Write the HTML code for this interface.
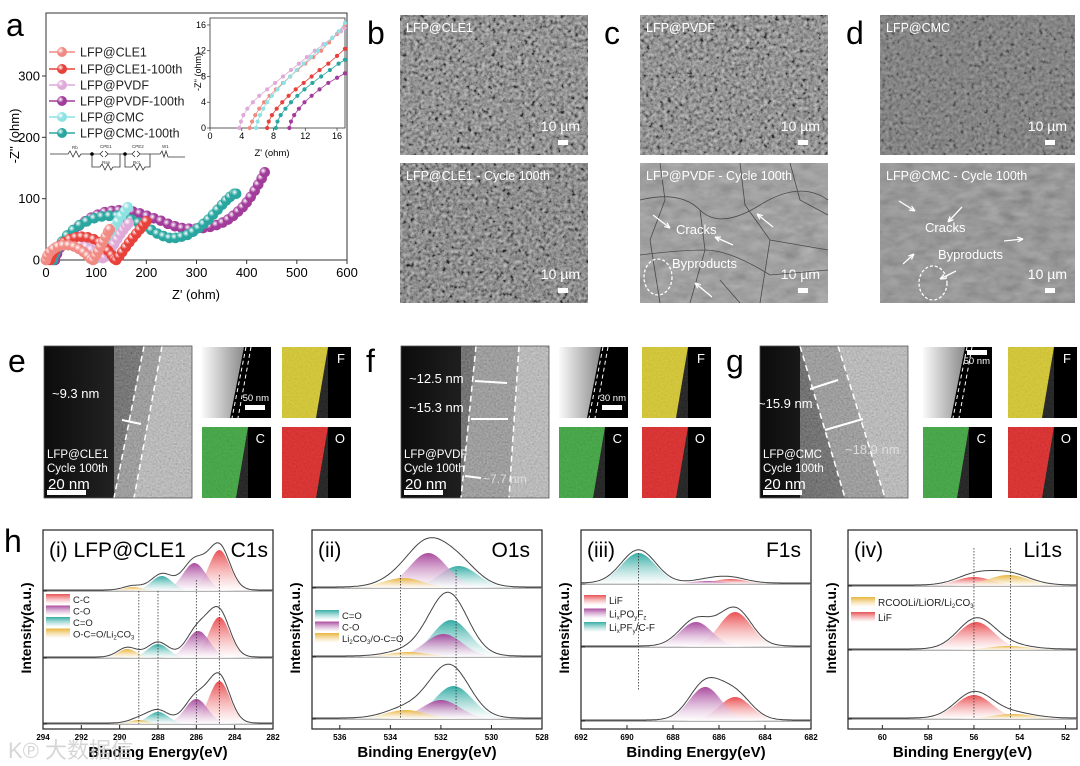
<!DOCTYPE html>
<html><head><meta charset="utf-8">
<style>
html,body{margin:0;padding:0;background:#fff;}
svg{display:block;font-family:"Liberation Sans",Arial,sans-serif;}
</style></head>
<body>
<svg id="fig" width="1080" height="766" viewBox="0 0 1080 766" xmlns="http://www.w3.org/2000/svg">
<defs>
  <filter id="noise" x="0" y="0" width="100%" height="100%">
    <feTurbulence type="fractalNoise" baseFrequency="0.55" numOctaves="2" seed="4"/>
    <feColorMatrix type="matrix" values="0.33 0.33 0.33 0 0  0.33 0.33 0.33 0 0  0.33 0.33 0.33 0 0  0 0 0 0 0.55"/>
  </filter>
  <filter id="semnoise" x="0" y="0" width="100%" height="100%">
    <feTurbulence type="fractalNoise" baseFrequency="0.28" numOctaves="3" seed="7"/>
    <feColorMatrix type="matrix" values="0.33 0.33 0.33 0 0  0.33 0.33 0.33 0 0  0.33 0.33 0.33 0 0  0 0 0 0 1"/>
    <feComponentTransfer>
      <feFuncR type="linear" slope="2.6" intercept="-0.85"/>
      <feFuncG type="linear" slope="2.6" intercept="-0.85"/>
      <feFuncB type="linear" slope="2.6" intercept="-0.85"/>
      <feFuncA type="linear" slope="0" intercept="0.6"/>
    </feComponentTransfer>
  </filter>
  <filter id="noise2" x="0" y="0" width="100%" height="100%">
    <feTurbulence type="fractalNoise" baseFrequency="0.06 0.12" numOctaves="3" seed="9"/>
    <feColorMatrix type="matrix" values="0.33 0.33 0.33 0 0  0.33 0.33 0.33 0 0  0.33 0.33 0.33 0 0  0 0 0 0 0.45"/>
  </filter>
  <linearGradient id="temDark" x1="0" x2="1" y1="0" y2="0"><stop offset="0" stop-color="#0c0c0c"/><stop offset="1" stop-color="#3a3a3a"/></linearGradient>
  <linearGradient id="hbGrad" x1="0" x2="1" y1="0" y2="0"><stop offset="0" stop-color="#fafafa"/><stop offset="1" stop-color="#8a8a8a"/></linearGradient>
</defs>

<g font-size="32" fill="#000">
  <text x="6" y="36">a</text>
  <text x="367" y="44">b</text>
  <text x="604" y="44">c</text>
  <text x="846" y="44">d</text>
  <text x="8" y="372">e</text>
  <text x="366" y="372">f</text>
  <text x="726" y="372">g</text>
  <text x="4" y="552">h</text>
</g>

<g id="panelA"></g>
<g id="sem"></g>
<g id="tem"></g>
<g id="xps"></g>
<text x="8" y="758" font-size="22" fill="#ccc" opacity="0.8">K℗ 大数据信</text>
</svg>

<script>
// ---------- Panel a data ----------
const eisNames = ["LFP@CLE1","LFP@CLE1-100th","LFP@PVDF","LFP@PVDF-100th","LFP@CMC","LFP@CMC-100th"];
const eisColors = ["#f28a84","#e8403a","#dfaad8","#a23c9a","#8fe2e2","#2aa6a0"];
const eisCLE1 = [[0,0],[3,7],[8,13],[15,18],[24,22],[34,24],[45,24],[56,22],[66,18],[75,13],[83,7],[89,2],[94,0],[99,7],[104,14],[109,22],[114,30],[119,38],[124,46],[127,50]];
const eisCLE1c = [[8,0],[12,8],[18,16],[26,23],[36,29],[47,34],[59,37],[71,38],[83,37],[95,34],[106,29],[116,22],[124,15],[131,8],[136,2],[140,0],[146,6],[152,13],[159,21],[166,29],[173,36],[180,43],[187,50],[194,57],[200,63]];
const eisPVDF = [[0,0],[4,8],[11,15],[20,21],[31,25],[43,28],[56,28],[68,26],[80,22],[90,17],[99,12],[107,7],[113,3],[118,5],[124,11],[130,18],[136,26],[142,34],[148,42],[154,49],[160,55],[165,60]];
const eisPVDFc = [[18,0],[22,10],[28,20],[36,30],[45,40],[55,48],[66,56],[78,63],[90,69],[103,74],[117,78],[131,80],[145,81],[159,81],[173,79],[187,76],[201,72],[215,68],[229,64],[243,59],[257,55],[271,52],[285,51],[299,51],[313,52],[327,54],[340,57],[352,61],[363,66],[373,72],[383,79],[392,86],[400,94],[408,103],[416,113],[423,123],[430,133],[436,143]];
const eisCMC = [[0,0],[4,8],[11,15],[20,21],[31,25],[43,27],[56,27],[68,24],[78,19],[87,13],[94,6],[99,2],[104,7],[110,15],[116,24],[122,33],[129,43],[136,53],[143,63],[150,72],[157,80],[163,86]];
const eisCMCc = [[14,0],[18,10],[24,20],[32,30],[42,40],[54,49],[67,57],[81,63],[96,68],[111,71],[126,72],[141,72],[156,70],[170,66],[184,61],[197,55],[210,49],[222,43],[234,39],[246,36],[258,36],[270,38],[282,41],[293,46],[304,52],[314,59],[324,66],[333,74],[342,82],[351,90],[359,97],[367,103],[375,108],[379,108]];
const eisXTicks = [0,100,200,300,400,500,600];
const eisYTicks = [0,100,200,300];
const insCLE1 = [[5,0],[5.3,1],[5.7,2],[6.2,3],[6.8,4],[7.5,5],[8.3,6],[9.2,7],[10.1,8],[11,9],[12,10],[13,11],[14,12],[15,13.3],[16,14.6],[17,16]];
const insCLE1c = [[7.2,0],[7.4,1],[7.8,2],[8.4,3],[9.1,4],[9.9,5],[10.8,6],[11.8,7],[12.8,8],[13.8,9],[14.9,10],[16,11.2],[17,12.3]];
const insPVDF = [[3.7,0],[3.9,1],[4.2,2],[4.7,3],[5.4,4],[6.2,5],[7.2,6],[8.2,7],[9.2,8],[10.2,9],[11.2,10],[12.2,11],[13.2,12],[14.3,13],[15.4,14],[16.5,15],[17,15.5]];
const insPVDFc = [[10,0],[10.2,1],[10.6,2],[11.2,3],[11.9,4],[12.8,5],[13.8,6],[14.9,7],[16,7.8],[17,8.5]];
const insCMC = [[5.8,0],[6,1],[6.3,2],[6.7,3],[7.2,4],[7.8,5],[8.5,6],[9.3,7],[10.1,8],[10.9,9],[11.8,10],[12.7,11],[13.6,12],[14.5,13],[15.4,14],[16.2,15],[17,16.3]];
const insCMCc = [[8.3,0],[8.5,1],[8.9,2],[9.5,3],[10.2,4],[11,5],[11.9,6],[12.9,7],[14,8],[15.1,9],[16.2,10],[17,10.6]];
const insTicks = [0,4,8,12,16];

// ---------- XPS data ----------
const c1sCenters = [284.8,286.1,287.8,289.3];
const c1sSigmas = [0.55,0.6,0.55,0.5];
const c1sHeights = [[41,28,15,4],[41,27,14,9],[43,25,12,4]];
const o1sSigmas = [0.75,0.75,0.8];
const o1sHeights = [[22,35,10],[37,23,5],[33,19,9]];
const o1sCentersShift = [[531.3,532.5,533.5],[531.6,531.9,533.3],[531.5,532.0,533.4]];
const f1sCenters = [[685.5,686.5,689.5],[685.3,687.0,689.5],[685.3,686.6,689.5]];
const f1sSigmas = [0.7,0.7,0.75];
const f1sHeights = [[5,3,31],[35,25,0],[24,34,0]];
const li1sCenters = [[56.0,54.5],[55.9,54.5],[56.0,54.3]];
const li1sSigmas = [0.8,0.9];
const li1sHeights = [[9,11],[28,4],[24,5]];
const c1sTicks = [294,292,290,288,286,284,282];
const o1sTicks = [536,534,532,530,528];
const f1sTicks = [692,690,688,686,684,682];
const li1sTicks = [60,58,56,54,52];

const NS = "http://www.w3.org/2000/svg";
function mk(parent, tag, attrs, text){
  const e = document.createElementNS(NS, tag);
  for (const k in attrs) e.setAttribute(k, attrs[k]);
  if (text !== undefined) e.textContent = text;
  parent.appendChild(e);
  return e;
}
const defs = document.querySelector("defs");

// ================= Panel a =================
(function(){
  const g = document.getElementById("panelA");
  const X = z => 46 + z*0.5017, Y = v => 260 - v*0.6133;
  const fr = mk(g,"rect",{x:46,y:13,width:301,height:247,fill:"none",stroke:"#333","stroke-width":1});
  
  
  eisXTicks.forEach(t=>{
    const l = mk(g,"line",{x1:X(t),x2:X(t),y1:260,y2:264,stroke:"#333"});
    
    
    const tx = mk(g,"text",{x:X(t),y:277,"font-size":13,"text-anchor":"middle"},t);
    
    
  });
  eisYTicks.forEach(t=>{
    const l = mk(g,"line",{x1:42,x2:46,y1:Y(t),y2:Y(t),stroke:"#333"});
    
    
    const tx = mk(g,"text",{x:40,y:Y(t)+4.5,"font-size":13,"text-anchor":"end"},t);
    
    
  });
  const xt = mk(g,"text",{x:196,y:299,"font-size":13,"text-anchor":"middle"},"Z' (ohm)");
  
  
  const yt = mk(g,"text",{x:0,y:0,"font-size":13,"text-anchor":"middle",transform:"translate(19,136) rotate(-90)"},"-Z'' (ohm)");
  
  

  eisColors.forEach((c,i)=>{
    const rg = mk(defs,"radialGradient",{id:"bead"+i,cx:"0.35",cy:"0.35",r:"0.7"});
    mk(rg,"stop",{offset:"0","stop-color":"#ffffff"});
    mk(rg,"stop",{offset:"0.45","stop-color":c});
    mk(rg,"stop",{offset:"1","stop-color":c});
  });
  const series = [eisPVDFc,eisCMCc,eisCMC,eisPVDF,eisCLE1c,eisCLE1];
  const sIdx = [3,5,4,2,1,0];
  series.forEach((pts,k)=>{
    const i = sIdx[k];
    const sg = mk(g,"g",{});
    
    
    pts.forEach(p=>{
      const c = mk(sg,"circle",{cx:X(p[0]),cy:Y(p[1]),r:5.3,fill:"url(#bead"+i+")"});
      
      
    });
  });
  const ly = [52,69,85,101,117,133];
  eisNames.forEach((n,i)=>{
    const lg = mk(g,"g",{});
    
    
    mk(lg,"line",{x1:49,x2:75,y1:ly[i],y2:ly[i],stroke:eisColors[i],"stroke-width":1.5});
    mk(lg,"circle",{cx:62,cy:ly[i],r:5,fill:"url(#bead"+i+")"});
    mk(lg,"text",{x:80,y:ly[i]+4.5,"font-size":12.5,fill:"#222"},n);
  });
  const cg = mk(g,"g",{stroke:"#333","stroke-width":0.8,fill:"none"});
  
  
  mk(cg,"path",{d:"M50 154 H68 l2 -3 l3 6 l3 -6 l3 6 l2 -3 H92 H100 l3 -3 M103 157 l-3 -3 M105 151 l3 3 l-3 3 M108 154 H125 H132 l3 -3 M135 157 l-3 -3 M137 151 l3 3 l-3 3 M140 154 H160 l2 -3 l2 6 l2 -6 l2 6 H185 M92 154 V167 H100 l2 -3 l3 6 l3 -6 l3 6 l2 -3 H120 V154 M125 154 V167 H132 l2 -3 l3 6 l3 -6 l3 6 l2 -3 H150 V154"});
  mk(g,"circle",{cx:92,cy:154,r:1.8,fill:"#000"});
  mk(g,"circle",{cx:125,cy:154,r:1.8,fill:"#000"});
  [["Rb",72,149],["CPE1",100,148],["Rse",102,164],["CPE2",132,148],["Rct",133,164],["W1",162,148]].forEach(a=>{
    mk(g,"text",{x:a[1],y:a[2],"font-size":4.5,fill:"#333"},a[0]);
  });

  const IX = z => 210 + z*7.94, IY = v => 128 - v*6.44;
  const ig = mk(g,"g",{});
  
  
  mk(ig,"rect",{x:210,y:18,width:135,height:110,fill:"#fff",stroke:"#333","stroke-width":0.8});
  insTicks.forEach(t=>{
    mk(ig,"line",{x1:IX(t),x2:IX(t),y1:128,y2:131,stroke:"#333","stroke-width":0.7});
    const a = mk(ig,"text",{x:IX(t),y:139,"font-size":9,"text-anchor":"middle"},t);
    
    
    mk(ig,"line",{x1:207,x2:210,y1:IY(t),y2:IY(t),stroke:"#333","stroke-width":0.7});
    const b = mk(ig,"text",{x:206,y:IY(t)+3,"font-size":9,"text-anchor":"end"},t);
    
    
  });
  mk(ig,"text",{x:272,y:156,"font-size":9.5,"text-anchor":"middle"},"Z' (ohm)");
  mk(ig,"text",{x:0,y:0,"font-size":9,"text-anchor":"middle",transform:"translate(201,72) rotate(-90)"},"-Z'' (ohm)");
  const ins = [insCLE1,insCLE1c,insPVDF,insPVDFc,insCMC,insCMCc];
  ins.forEach((pts,i)=>{
    const sg = mk(ig,"g",{});
    
    
    mk(sg,"polyline",{points:pts.map(p=>IX(p[0])+","+IY(p[1])).join(" "),fill:"none",stroke:eisColors[i],"stroke-width":0.8});
    pts.forEach(p=>mk(sg,"circle",{cx:IX(p[0]),cy:IY(p[1]),r:2.1,fill:eisColors[i]}));
  });
})();

// ================= SEM (b,c,d) =================
(function(){
  const g = document.getElementById("sem");
  const imgs = [
    {x:400,y:15,w:188,h:140,base:"#666",f:"semnoise",label:"LFP@CLE1",n:"sem-cle1"},
    {x:400,y:163,w:188,h:140,base:"#5a5a5a",f:"semnoise",label:"LFP@CLE1 - Cycle 100th",n:"sem-cle1-100th"},
    {x:640,y:15,w:188,h:140,base:"#676767",f:"semnoise",label:"LFP@PVDF",n:"sem-pvdf"},
    {x:640,y:163,w:188,h:140,base:"#8a8a8a",f:"noise2",label:"LFP@PVDF - Cycle 100th",n:"sem-pvdf-100th"},
    {x:880,y:15,w:195,h:140,base:"#6e6e6e",f:"semnoise",label:"LFP@CMC",n:"sem-cmc"},
    {x:880,y:163,w:195,h:140,base:"#7c7c7c",f:"noise2",label:"LFP@CMC - Cycle 100th",n:"sem-cmc-100th"}
  ];
  imgs.forEach((m,i)=>{
    const sg = mk(g,"g",{});
    
    
    mk(sg,"rect",{x:m.x,y:m.y,width:m.w,height:m.h,fill:m.base});
    mk(sg,"rect",{x:m.x,y:m.y,width:m.w,height:m.h,filter:"url(#"+m.f+")",opacity:i==4?"0.55":"1"});
    mk(sg,"text",{x:m.x+6,y:m.y+17,"font-size":12.5,fill:"#fff"},m.label);
    mk(sg,"text",{x:m.x+m.w-8,y:m.y+m.h-24,"font-size":14,fill:"#fff","text-anchor":"end"},"10 µm");
    mk(sg,"rect",{x:m.x+m.w-30,y:m.y+m.h-15,width:10,height:5,fill:"#fff"});
  });
  const cr = mk(g,"path",{d:"M640 200 Q680 190 700 210 T760 205 T828 200 M660 163 L665 200 L650 240 L660 303 M700 210 L705 250 L690 303 M740 163 L745 205 L770 240 L760 303 M770 240 L828 250 M640 255 Q680 250 705 250 T770 275 L828 270 M790 163 L800 200 L828 215 M720 280 L740 303",stroke:"#333","stroke-width":0.8,fill:"none",opacity:"0.8"});
  
  
  const ann = mk(g,"g",{fill:"#fff","font-size":13,stroke:"none"});
  
  
  mk(ann,"text",{x:676,y:234},"Cracks");
  mk(ann,"text",{x:672,y:268},"Byproducts");
  mk(ann,"text",{x:925,y:232},"Cracks");
  mk(ann,"text",{x:938,y:259},"Byproducts");
  const arr = mk(g,"g",{stroke:"#fff","stroke-width":1.3,fill:"none"});
  
  
  [[653,215,670,228],[733,245,715,237],[773,227,757,214],[712,297,695,283],[899,201,915,211],[962,207,948,222],[1004,241,1023,239],[903,264,914,254],[956,271,940,279]].forEach(a=>{
    mk(arr,"line",{x1:a[0],y1:a[1],x2:a[2],y2:a[3]});
    const ang=Math.atan2(a[3]-a[1],a[2]-a[0]);
    mk(arr,"path",{d:`M${a[2]} ${a[3]} L${a[2]-6*Math.cos(ang-0.4)} ${a[3]-6*Math.sin(ang-0.4)} M${a[2]} ${a[3]} L${a[2]-6*Math.cos(ang+0.4)} ${a[3]-6*Math.sin(ang+0.4)}`});
  });
  mk(arr,"ellipse",{cx:658,cy:277,rx:14,ry:18,"stroke-dasharray":"3 2"});
  mk(arr,"ellipse",{cx:933,cy:283,rx:14,ry:17,"stroke-dasharray":"3 2"});
})();

// ================= TEM / EDS (e,f,g) =================
(function(){
  const g = document.getElementById("tem");
  const sets = [
    {x:44,n:"e",sx:202,fx:282,lab:["~9.3 nm"],labY:[398],name:"LFP@CLE1",sb:"50 nm"},
    {x:401,n:"f",sx:559,fx:642,lab:["~12.5 nm","~15.3 nm"],labY:[383,412],name:"LFP@PVDF",sb:"30 nm"},
    {x:760,n:"g",sx:923,fx:1008,lab:["~15.9 nm"],labY:[408],name:"LFP@CMC",sb:"50 nm"}
  ];
  const y0=346, h=152, w=148;
  sets.forEach((s,k)=>{
    const tg = mk(g,"g",{});
    
    
    const b1 = [[s.x+100,s.x+70],[s.x+75,s.x+60],[s.x+40,s.x+85]][k];
    const b2 = [[s.x+118,s.x+90],[s.x+118,s.x+108],[s.x+78,s.x+125]][k];
    mk(tg,"rect",{x:s.x,y:y0,width:w,height:h,fill:"url(#temDark)"});
    mk(tg,"path",{d:`M${b1[0]} ${y0} L${s.x+w} ${y0} L${s.x+w} ${y0+h} L${b1[1]} ${y0+h} Z`,fill:"#7a7a7a"});
    mk(tg,"path",{d:`M${b2[0]} ${y0} L${s.x+w} ${y0} L${s.x+w} ${y0+h} L${b2[1]} ${y0+h} Z`,fill:"#b8b8b8"});
    mk(tg,"path",{d:`M${b1[0]} ${y0} L${s.x+w} ${y0} L${s.x+w} ${y0+h} L${b1[1]} ${y0+h} Z`,filter:"url(#noise)"});
    mk(tg,"line",{x1:b1[0],y1:y0,x2:b1[1],y2:y0+h,stroke:"#fff","stroke-width":1.5,"stroke-dasharray":"6 4"});
    mk(tg,"line",{x1:b2[0],y1:y0,x2:b2[1],y2:y0+h,stroke:"#fff","stroke-width":1.5,"stroke-dasharray":"6 4"});
    mk(tg,"rect",{x:s.x,y:y0,width:w,height:h,fill:"none",stroke:"#555","stroke-width":0.8});
    s.lab.forEach((t,i)=>mk(tg,"text",{x:s.x+ (k==2?-2:8),y:s.labY[i],"font-size":13,fill:"#fff"},t));
    mk(tg,"text",{x:s.x+3,y:y0+112,"font-size":11.5,fill:"#fff"},s.name);
    mk(tg,"text",{x:s.x+3,y:y0+126,"font-size":11.5,fill:"#fff"},"Cycle 100th");
    mk(tg,"text",{x:s.x+4,y:y0+143,"font-size":15,fill:"#fff"},"20 nm");
    mk(tg,"rect",{x:s.x+3,y:y0+144,width:39,height:5,fill:"#fff"});
    const bars = [[[s.x+78,y0+74,s.x+97,y0+78]],[[s.x+74,y0+35,s.x+106,y0+37],[s.x+70,y0+73,s.x+107,y0+73],[s.x+64,y0+130,s.x+80,y0+132]],[[s.x+50,y0+43,s.x+78,y0+34],[s.x+65,y0+84,s.x+103,y0+73]]][k];
    bars.forEach(b=>mk(tg,"line",{x1:b[0],y1:b[1],x2:b[2],y2:b[3],stroke:"#fff","stroke-width":2}));
    if(k==1) mk(tg,"text",{x:s.x+82,y:y0+137,"font-size":12,fill:"#ddd"},"~7.7 nm");
    if(k==2) mk(tg,"text",{x:s.x+85,y:y0+108,"font-size":13,fill:"#ddd"},"~18.9 nm");
    const hg = mk(g,"g",{});
    
    
    mk(hg,"rect",{x:s.sx,y:347,width:69,height:71,fill:"#000"});
    mk(hg,"path",{d:`M${s.sx} 347 L${s.sx+42} 347 L${s.sx+28} 418 L${s.sx} 418 Z`,fill:"url(#hbGrad)"});
    mk(hg,"path",{d:`M${s.sx+44} 347 L${s.sx+30} 418 M${s.sx+49} 347 L${s.sx+36} 418`,stroke:"#fff","stroke-dasharray":"4 3",fill:"none"});
    mk(hg,"text",{x:s.sx+67,y:k==2?364:401,"font-size":9.5,fill:"#fff","text-anchor":"end"},s.sb);
    mk(hg,"rect",{x:s.sx+(k==2?44:43),y:k==2?350:405,width:20,height:5,fill:"#fff"});
    const maps = [[s.fx,347,"#d8c818","F"],[s.sx,427,"#2aa02a","C"],[s.fx,427,"#e01010","O"]];
    maps.forEach(m=>{
      const mg = mk(g,"g",{});
      
      
      mk(mg,"rect",{x:m[0],y:m[1],width:69,height:71,fill:"#000"});
      mk(mg,"path",{d:`M${m[0]} ${m[1]} L${m[0]+46} ${m[1]} L${m[0]+34} ${m[1]+71} L${m[0]} ${m[1]+71} Z`,fill:m[2]});
      mk(mg,"path",{d:`M${m[0]} ${m[1]} L${m[0]+46} ${m[1]} L${m[0]+34} ${m[1]+71} L${m[0]} ${m[1]+71} Z`,filter:"url(#noise)",opacity:"0.4"});
      mk(mg,"text",{x:m[0]+63,y:m[1]+16,"font-size":13,fill:"#fff","text-anchor":"end"},m[3]);
    });
  });
})();

// ================= XPS (h) =================
(function(){
  const g = document.getElementById("xps");
  const cols = {red:"#e8474a",pur:"#a6429a",teal:"#2aa8a0",org:"#e8b030"};
  Object.keys(cols).forEach(k=>{
    const lg = mk(defs,"linearGradient",{id:"pk_"+k,x1:0,x2:0,y1:0,y2:1});
    mk(lg,"stop",{offset:"0","stop-color":cols[k],"stop-opacity":"0.95"});
    mk(lg,"stop",{offset:"1","stop-color":"#fff","stop-opacity":"0.6"});
  });
  const gauss=(e,c,s,h)=>h*Math.exp(-0.5*((e-c)/s)**2);
  function plot(cfg){
    const pg = mk(g,"g",{});
    
    
    const X = e => cfg.x0 + (cfg.e0-e)/(cfg.e0-cfg.e1)*(cfg.x1-cfg.x0);
    const top=530,bot=729;
    mk(pg,"rect",{x:cfg.x0,y:top,width:cfg.x1-cfg.x0,height:bot-top,fill:"none",stroke:"#222","stroke-width":1.2});
    cfg.ticks.forEach(t=>{
      mk(pg,"line",{x1:X(t),x2:X(t),y1:bot,y2:bot-4,stroke:"#222"});
      const tl = mk(pg,"text",{x:X(t),y:bot+11,"font-size":8,"text-anchor":"middle","font-weight":"bold"},t);
      
      
    });
    const xt = mk(pg,"text",{x:(cfg.x0+cfg.x1)/2,y:757,"font-size":15,"font-weight":"bold","text-anchor":"middle"},"Binding Energy(eV)");
    
    
    const yt = mk(pg,"text",{x:0,y:0,"font-size":14,"font-weight":"bold","text-anchor":"middle",transform:`translate(${cfg.x0-12},628) rotate(-90)`},"Intensity(a.u.)");
    
    
    const N=160;
    cfg.bases.forEach((by,si)=>{
      mk(pg,"line",{x1:cfg.x0+1,x2:cfg.x1-1,y1:by,y2:by,stroke:"#666","stroke-width":1});
      mk(pg,"line",{x1:cfg.x0,x2:cfg.x0+4,y1:by,y2:by,stroke:"#222"});
      const env = new Array(N+1).fill(0);
      cfg.centers[si].forEach((c,pi)=>{
        const h = cfg.heights[si][pi];
        if(h<=0) return;
        let d = `M${X(cfg.e0)} ${by}`;
        for(let i=0;i<=N;i++){
          const e = cfg.e0 + (cfg.e1-cfg.e0)*i/N;
          const v = gauss(e,c,cfg.sig[pi],h);
          env[i]+=v;
          d += ` L${X(e).toFixed(1)} ${(by-v).toFixed(1)}`;
        }
        d += ` L${X(cfg.e1)} ${by} Z`;
        const p = mk(pg,"path",{d:d,fill:"url(#pk_"+cfg.colors[pi]+")"});
        
        
      });
      let d2="";
      for(let i=0;i<=N;i++){
        const e = cfg.e0 + (cfg.e1-cfg.e0)*i/N;
        d2 += (i?" L":"M")+X(e).toFixed(1)+" "+(by-env[i]*1.07-1).toFixed(1);
      }
      const en = mk(pg,"path",{d:d2,fill:"none",stroke:"#444","stroke-width":1});
      
      
    });
    cfg.vlines.forEach(v=>mk(pg,"line",{x1:X(v[0]),x2:X(v[0]),y1:v[1],y2:v[2],stroke:"#333","stroke-width":0.8,"stroke-dasharray":"1.5 1.5"}));
    mk(pg,"text",{x:cfg.x0+6,y:557,"font-size":21},cfg.title);
    mk(pg,"text",{x:cfg.tx,y:557,"font-size":21,"text-anchor":"end"},cfg.core);
    cfg.legend.forEach((l,i)=>{
      const lg = mk(pg,"g",{});
      
      
      const ly = cfg.ly + i*cfg.ld;
      mk(lg,"rect",{x:cfg.x0+3,y:ly-6,width:cfg.sw,height:10,fill:"url(#pk_"+l[0]+")"});
      const t = mk(lg,"text",{x:cfg.x0+cfg.sw+6,y:ly+3,"font-size":cfg.lfs,fill:"#222"});
      t.innerHTML = l[1];
    });
  }
  plot({name:"xps-c1s",x0:43,x1:273,e0:294,e1:282,ticks:c1sTicks,bases:[591,658,724],
    centers:[c1sCenters,[284.8,285.9,288.0,289.6],[284.8,286.0,288.0,289.0]],heights:c1sHeights,sig:c1sSigmas,
    colors:["red","pur","teal","org"],vlines:[[289,591,724],[288,591,724],[286,580,724],[284.8,575,724]],
    title:"(i) LFP@CLE1",core:"C1s",tx:268,
    legend:[["red","C-C"],["pur","C-O"],["teal","C=O"],["org","O-C=O/Li<tspan font-size='6' dy='2'>2</tspan><tspan dy='-2'>CO</tspan><tspan font-size='6' dy='2'>3</tspan>"]],ly:600,ld:11.5,sw:24,lfs:9.5});
  plot({name:"xps-o1s",x0:312,x1:542,e0:537.1,e1:528,ticks:o1sTicks,bases:[588,657,719],
    centers:o1sCentersShift,heights:o1sHeights,sig:o1sSigmas,
    colors:["teal","pur","org"],vlines:[[533.6,575,719],[531.4,570,710]],
    title:"(ii)",core:"O1s",tx:530,
    legend:[["teal","C=O"],["pur","C-O"],["org","Li<tspan font-size='6' dy='2'>2</tspan><tspan dy='-2'>CO</tspan><tspan font-size='6' dy='2'>3</tspan><tspan dy='-2'>/O-C=O</tspan>"]],ly:616,ld:11.5,sw:24,lfs:9.5});
  plot({name:"xps-f1s",x0:581,x1:811,e0:692,e1:682,ticks:f1sTicks,bases:[584,647,721],
    centers:f1sCenters,heights:f1sHeights,sig:f1sSigmas,
    colors:["red","pur","teal"],vlines:[[689.5,553,690]],
    title:"(iii)",core:"F1s",tx:801,
    legend:[["red","LiF"],["pur","Li<tspan font-size='6' dy='2'>x</tspan><tspan dy='-2'>PO</tspan><tspan font-size='6' dy='2'>y</tspan><tspan dy='-2'>F</tspan><tspan font-size='6' dy='2'>z</tspan>"],["teal","Li<tspan font-size='6' dy='2'>x</tspan><tspan dy='-2'>PF</tspan><tspan font-size='6' dy='2'>y</tspan><tspan dy='-2'>/C-F</tspan>"]],ly:601,ld:13.5,sw:22,lfs:10});
  plot({name:"xps-li1s",x0:848,x1:1077,e0:61.5,e1:51.5,ticks:li1sTicks,bases:[586,650,719],
    centers:li1sCenters,heights:li1sHeights,sig:li1sSigmas,
    colors:["red","org"],vlines:[[56,548,719],[54.4,548,719]],
    title:"(iv)",core:"Li1s",tx:1062,
    legend:[["org","RCOOLi/LiOR/Li<tspan font-size='6' dy='2'>2</tspan><tspan dy='-2'>CO</tspan><tspan font-size='6' dy='2'>3</tspan>"],["red","LiF"]],ly:603,ld:15,sw:24,lfs:10});
})();
</script>
</body></html>
